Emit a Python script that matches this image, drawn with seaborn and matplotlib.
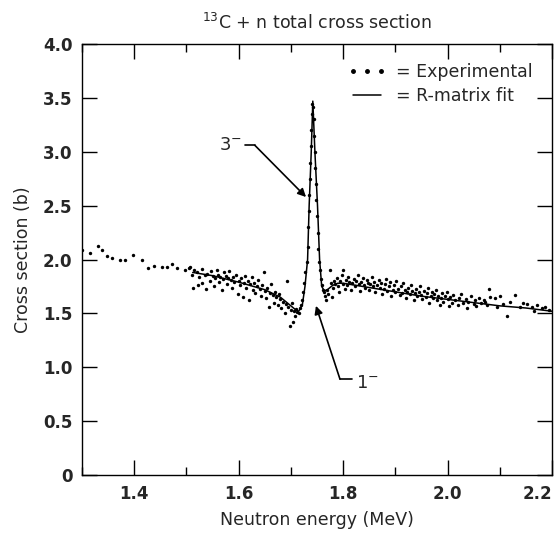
import matplotlib
matplotlib.use("Agg")
import numpy as np
import pandas as pd
import matplotlib.pyplot as plt
import seaborn as sns
from matplotlib.lines import Line2D
from matplotlib.ticker import MultipleLocator

sns.set_style("ticks")
plt.rcParams['font.family'] = ['DejaVu Sans']

# experimental points in pieces
exp_low_x = [1.300, 1.315, 1.331, 1.338, 1.347, 1.357, 1.373, 1.382, 1.398, 1.414,
             1.427, 1.437, 1.453, 1.462, 1.472, 1.481, 1.497, 1.507]
exp_low_y = [2.09, 2.06, 2.13, 2.09, 2.03, 2.01, 2.00, 2.00, 2.04, 2.00,
             1.92, 1.94, 1.93, 1.93, 1.96, 1.92, 1.90, 1.93]

exp_pre_x = [1.505, 1.510, 1.512, 1.515, 1.520, 1.522, 1.525, 1.530, 1.530, 1.535,
             1.538, 1.540, 1.545, 1.548, 1.550, 1.552, 1.555, 1.558, 1.560, 1.562,
             1.565, 1.568, 1.570, 1.572, 1.575, 1.578, 1.580, 1.582, 1.585, 1.588,
             1.590, 1.592, 1.595, 1.598, 1.600, 1.602, 1.605, 1.608, 1.610, 1.612,
             1.615, 1.618, 1.620, 1.622, 1.625, 1.628, 1.630, 1.632, 1.635, 1.638,
             1.640, 1.642, 1.645, 1.648, 1.650, 1.652, 1.655, 1.658, 1.660, 1.662,
             1.665, 1.668, 1.670, 1.672, 1.675, 1.678, 1.680, 1.682, 1.685, 1.688,
             1.690, 1.692, 1.695, 1.698, 1.700, 1.702, 1.704, 1.706, 1.708, 1.710,
             1.712, 1.715]
exp_pre_y = [1.92, 1.86, 1.74, 1.90, 1.88, 1.76, 1.84, 1.91, 1.78, 1.86,
             1.73, 1.87, 1.80, 1.89, 1.85, 1.75, 1.83, 1.90, 1.86, 1.79,
             1.84, 1.72, 1.82, 1.88, 1.85, 1.77, 1.83, 1.89, 1.81, 1.74,
             1.84, 1.79, 1.86, 1.68, 1.80, 1.76, 1.83, 1.65, 1.78, 1.85,
             1.74, 1.80, 1.62, 1.77, 1.84, 1.72, 1.78, 1.69, 1.75, 1.81,
             1.73, 1.66, 1.76, 1.88, 1.71, 1.64, 1.74, 1.56, 1.69, 1.77,
             1.67, 1.60, 1.70, 1.65, 1.58, 1.68, 1.63, 1.55, 1.61, 1.50,
             1.59, 1.80, 1.56, 1.38, 1.53, 1.60, 1.42, 1.52, 1.48, 1.54,
             1.51, 1.50]

exp_peak_x = [1.718, 1.720, 1.722, 1.724, 1.726, 1.728, 1.730, 1.732, 1.733, 1.734,
              1.735, 1.736, 1.737, 1.738, 1.739, 1.740, 1.741, 1.743, 1.744, 1.745,
              1.746, 1.747, 1.748, 1.749, 1.750, 1.751, 1.752, 1.754, 1.755, 1.757,
              1.759, 1.761, 1.763]
exp_peak_y = [1.55, 1.58, 1.62, 1.70, 1.78, 1.88, 1.98, 2.12, 2.30, 2.45,
              2.60, 2.75, 2.90, 3.05, 3.20, 3.35, 3.44, 3.42, 3.30, 3.15,
              3.00, 2.85, 2.70, 2.55, 2.40, 2.25, 2.10, 1.98, 1.90, 1.82,
              1.76, 1.72, 1.70]

exp_post_x = [1.765, 1.768, 1.770, 1.772, 1.775, 1.776, 1.778, 1.780, 1.782, 1.785,
              1.788, 1.790, 1.792, 1.795, 1.798, 1.800, 1.800, 1.803, 1.805, 1.808,
              1.810, 1.812, 1.815, 1.818, 1.820, 1.822, 1.825, 1.828, 1.830, 1.832,
              1.835, 1.838, 1.840, 1.842, 1.845, 1.848, 1.850, 1.852, 1.855, 1.858,
              1.860, 1.862, 1.865, 1.868, 1.870, 1.872, 1.875, 1.878, 1.880, 1.882,
              1.885, 1.888, 1.890, 1.892, 1.895, 1.898, 1.900, 1.902, 1.905, 1.908,
              1.910, 1.912, 1.915, 1.918, 1.920, 1.922, 1.925, 1.928, 1.930, 1.932,
              1.935, 1.938, 1.940, 1.942, 1.945, 1.948, 1.950, 1.952, 1.955, 1.958,
              1.960, 1.962, 1.965, 1.968, 1.970, 1.972, 1.975, 1.978, 1.980, 1.982,
              1.985, 1.988, 1.990, 1.992, 1.995, 1.998, 2.000, 2.002, 2.005, 2.008,
              2.010, 2.015, 2.020, 2.022, 2.025, 2.030, 2.035, 2.038, 2.040, 2.045,
              2.050, 2.052, 2.055, 2.060, 2.065, 2.070, 2.072, 2.075, 2.080, 2.082]
exp_post_y = [1.66, 1.62, 1.72, 1.68, 1.90, 1.78, 1.65, 1.74, 1.80, 1.77,
              1.83, 1.75, 1.70, 1.80, 1.86, 1.90, 1.77, 1.73, 1.81, 1.76,
              1.84, 1.79, 1.72, 1.78, 1.82, 1.75, 1.80, 1.86, 1.77, 1.71,
              1.79, 1.83, 1.76, 1.74, 1.81, 1.78, 1.72, 1.77, 1.84, 1.75,
              1.79, 1.70, 1.76, 1.81, 1.74, 1.78, 1.68, 1.73, 1.77, 1.82,
              1.71, 1.75, 1.79, 1.66, 1.72, 1.76, 1.70, 1.80, 1.73, 1.67,
              1.75, 1.69, 1.78, 1.72, 1.64, 1.70, 1.74, 1.68, 1.76, 1.71,
              1.62, 1.69, 1.73, 1.66, 1.70, 1.75, 1.67, 1.63, 1.71, 1.65,
              1.69, 1.74, 1.60, 1.66, 1.70, 1.64, 1.68, 1.72, 1.62, 1.66,
              1.58, 1.64, 1.69, 1.61, 1.66, 1.70, 1.63, 1.57, 1.65, 1.60,
              1.67, 1.62, 1.58, 1.64, 1.68, 1.60, 1.63, 1.55, 1.61, 1.66,
              1.59, 1.62, 1.57, 1.64, 1.60, 1.62, 1.61, 1.58, 1.73, 1.65]

exp_tail_x = [2.091, 2.095, 2.100, 2.107, 2.114, 2.120, 2.130, 2.139, 2.145, 2.152,
              2.161, 2.165, 2.171, 2.181, 2.187, 2.195]
exp_tail_y = [1.64, 1.56, 1.66, 1.59, 1.48, 1.61, 1.67, 1.56, 1.60, 1.59,
              1.56, 1.52, 1.58, 1.55, 1.56, 1.53]

# R-matrix fit curve
fit_x = [1.512, 1.550, 1.600, 1.650, 1.680, 1.700, 1.710, 1.715, 1.722, 1.727,
         1.732, 1.735, 1.739, 1.742, 1.746, 1.751, 1.755, 1.759, 1.764, 1.770,
         1.780, 1.790, 1.800, 1.850, 1.900, 1.950, 2.000, 2.050, 2.100, 2.150,
         2.200]
fit_y = [1.88, 1.85, 1.79, 1.72, 1.65, 1.57, 1.53, 1.52, 1.58, 1.75,
         2.00, 2.50, 3.00, 3.47, 3.00, 2.50, 2.00, 1.75, 1.71, 1.72,
         1.76, 1.78, 1.78, 1.74, 1.70, 1.66, 1.63, 1.60, 1.57, 1.55,
         1.52]

xtick_vals = [1.4, 1.6, 1.8, 2.0, 2.2]
xtick_labels = ["1.4", "1.6", "1.8", "2.0", "2.2"]
ytick_vals = [0, 0.5, 1.0, 1.5, 2.0, 2.5, 3.0, 3.5, 4.0]
ytick_labels = ["0", "0.5", "1.0", "1.5", "2.0", "2.5", "3.0", "3.5", "4.0"]

exp = pd.DataFrame({
    "energy": exp_low_x + exp_pre_x + exp_peak_x + exp_post_x + exp_tail_x,
    "sigma": exp_low_y + exp_pre_y + exp_peak_y + exp_post_y + exp_tail_y,
})
fit = pd.DataFrame({"energy": fit_x, "sigma": fit_y})

fig = plt.figure(figsize=(5.6, 5.33), dpi=100)
ax = fig.add_axes([0.1464, 0.1088, 0.8393, 0.8086])

sns.scatterplot(data=exp, x="energy", y="sigma", ax=ax, color="black",
                s=6, linewidth=0, legend=False)
sns.lineplot(data=fit, x="energy", y="sigma", ax=ax, color="black",
             lw=1.1, estimator=None, sort=False, legend=False)

ax.set_xlim(1.3, 2.2)
ax.set_ylim(0, 4.0)
ax.set_xticks(xtick_vals)
ax.set_xticklabels(xtick_labels)
ax.xaxis.set_minor_locator(MultipleLocator(0.1))
ax.set_yticks(ytick_vals)
ax.set_yticklabels(ytick_labels)
ax.tick_params(which="both", direction="in", top=True, right=True, color="black")
ax.tick_params(which="major", length=11, width=1, labelsize=12, pad=7)
ax.tick_params(which="minor", length=6, width=1)
for lab in ax.get_xticklabels() + ax.get_yticklabels():
    lab.set_fontweight("bold")
ax.get_xticklabels()[-1].set_ha("right")
for sp in ax.spines.values():
    sp.set_linewidth(1)
    sp.set_color("black")

ax.set_xlabel("Neutron energy (MeV)", fontsize=12.5, labelpad=6)
ax.set_ylabel("Cross section (b)", fontsize=12.5, labelpad=8)
ax.set_title("$^{13}$C + n total cross section", fontsize=12.5, pad=11)

# resonance labels
ax.text(1.585, 3.06, "3$^{-}$", fontsize=13, ha="center", va="center")
ax.plot([1.612, 1.631], [3.06, 3.06], color="black", lw=1.2)
ax.annotate("", xy=(1.729, 2.58), xytext=(1.631, 3.06),
            arrowprops=dict(arrowstyle="-|>", color="black", lw=1.2,
                            shrinkA=0, shrinkB=0, mutation_scale=12))
ax.text(1.846, 0.85, "1$^{-}$", fontsize=13, ha="center", va="center")
ax.plot([1.794, 1.817], [0.89, 0.89], color="black", lw=1.2)
ax.annotate("", xy=(1.748, 1.57), xytext=(1.794, 0.89),
            arrowprops=dict(arrowstyle="-|>", color="black", lw=1.2,
                            shrinkA=0, shrinkB=0, mutation_scale=12))

handles = [
    Line2D([], [], ls="none", marker="o", ms=2.5, color="black"),
    Line2D([], [], ls="-", lw=1.1, color="black"),
]
ax.legend(handles, ["= Experimental", "= R-matrix fit"], loc="upper right",
          frameon=False, fontsize=12.5, numpoints=3, handlelength=2.2,
          handletextpad=0.6, labelspacing=0.35, borderaxespad=0.7)

fig.savefig("out.png", dpi=100)
